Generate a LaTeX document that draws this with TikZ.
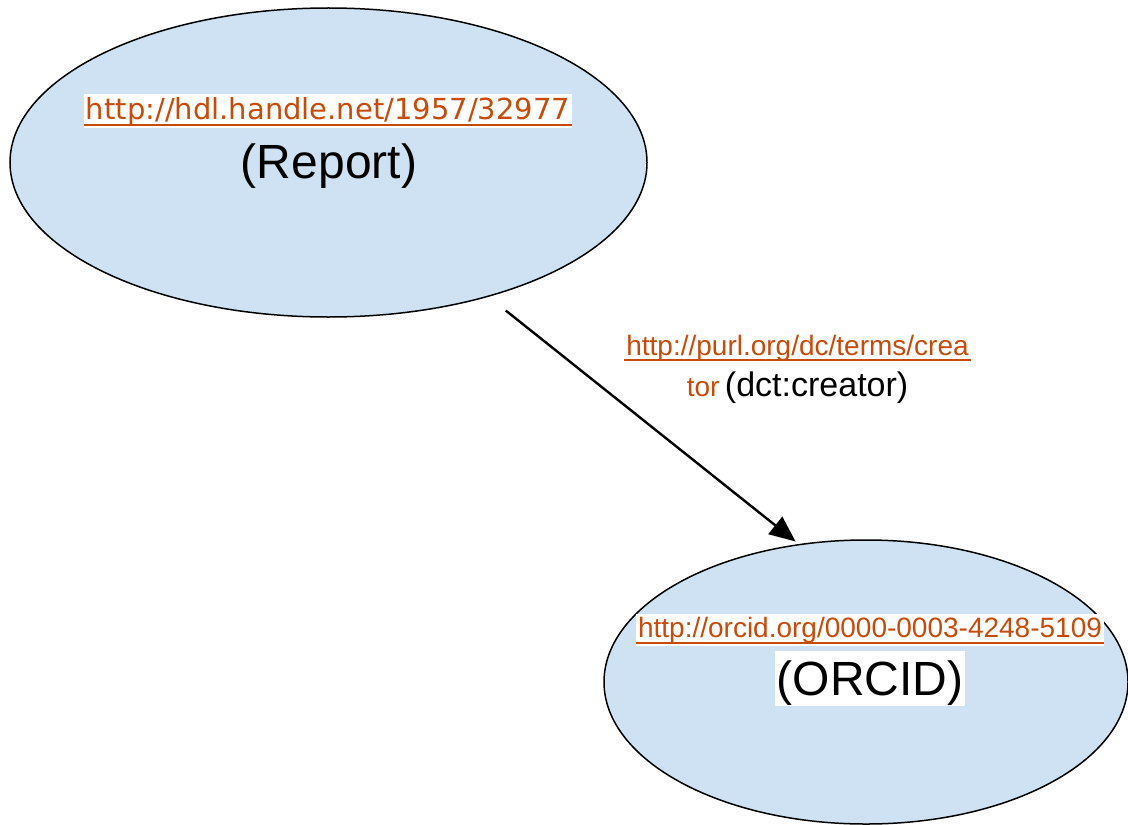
\documentclass[tikz,border=0pt]{standalone}
\usepackage{fontspec}
\setmainfont{Liberation Sans}
\newfontfamily\hdlfont{DejaVu Sans}
\usetikzlibrary{shapes.geometric,arrows.meta}
\definecolor{nodeblue}{RGB}{207,226,243}
\definecolor{linkorange}{RGB}{200,75,10}

\begin{document}
\begin{tikzpicture}[x=0.5pt,y=-0.5pt,
		resource/.style={ellipse, draw=black, line width=0.75pt, fill=nodeblue, inner sep=0pt},
		link/.style={text=linkorange, fill=white, inner xsep=1pt, inner ysep=1.5pt, anchor=base, font=\fontsize{14}{16}\selectfont},
		ul/.style={draw=linkorange, line width=1pt},
		title/.style={anchor=base, inner xsep=1pt, inner ysep=0pt, text height=22pt, text depth=5.5pt, font=\fontsize{24}{28}\selectfont},
		arrow/.style={line width=1.2pt, -{Triangle[length=13pt,width=11pt]}}]
		%%%%% START %%%%%
		
		\useasboundingbox (0, 0) rectangle (1128, 824);
		
		\node[resource, minimum width=318.5pt, minimum height=154.5pt] (report) at (328.5, 162.5) {};
		\node[title, text depth=3pt] (reportname) at (329, 178) {(Report)};
		\node[link, font=\hdlfont\fontsize{14.5}{16}\selectfont] (reporturl) at (328, 119.3) {http://hdl.handle.net/1957/32977};
		\draw[ul] ([yshift=-3pt]reporturl.base west) -- ([yshift=-3pt]reporturl.base east);
		
		\node[resource, minimum width=262pt, minimum height=142pt] (orcid) at (866, 682) {};
		\node[title, fill=white] (orcidname) at (870, 695) {(ORCID)};
		\node[link] (orcidurl) at (870, 637.3) {http://orcid.org/0000-0003-4248-5109};
		\draw[ul] ([yshift=-3pt]orcidurl.base west) -- ([yshift=-3pt]orcidurl.base east);
		
		\draw[arrow, shorten <=11pt, shorten >=2pt] (report.-40) -- (orcid.116);
		
		\node[link, fill=none] (creatorurl) at (797.5, 355) {http://purl.org/dc/terms/crea};
		\draw[ul, line width=0.9pt] ([yshift=-2.5pt]creatorurl.base west) -- ([yshift=-2.5pt]creatorurl.base east);
		\node[anchor=base, inner sep=1pt] (creatorname) at (797.5, 396) {{\color{linkorange}\fontsize{14}{16}\selectfont tor} {\fontsize{17}{20}\selectfont (dct:creator)}};
		
		%%%%% END %%%%%
\end{tikzpicture}
\end{document}
